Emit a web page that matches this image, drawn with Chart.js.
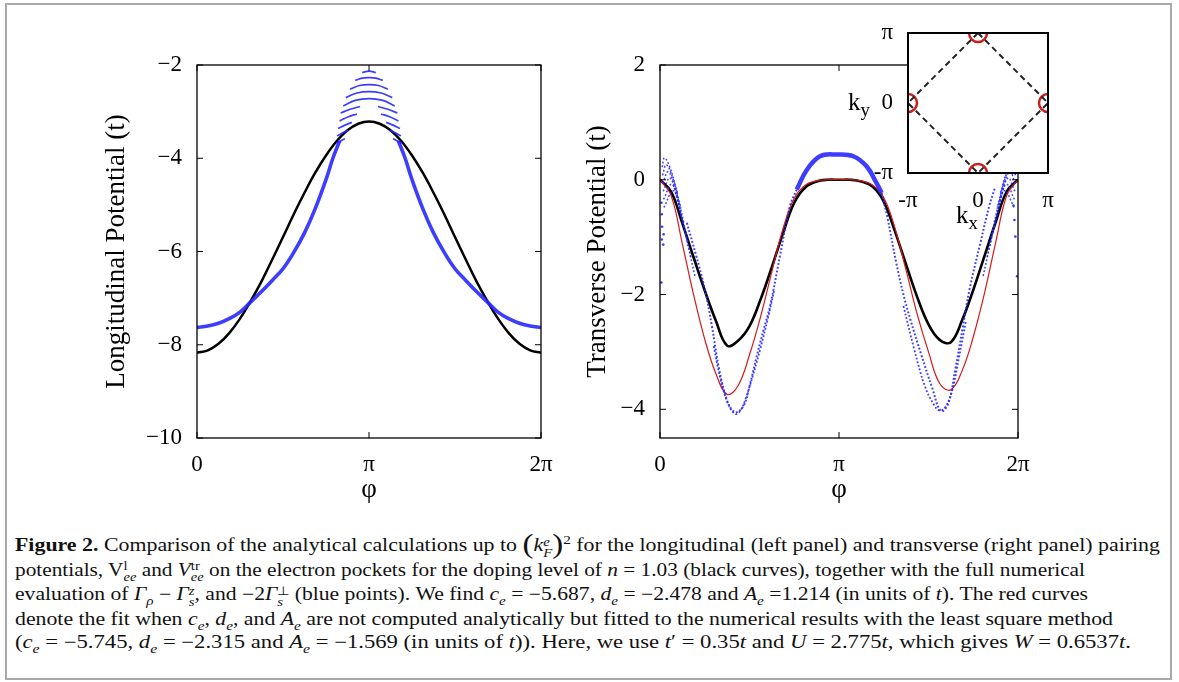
<!DOCTYPE html>
<html>
<head>
<meta charset="utf-8">
<script src="https://cdn.jsdelivr.net/npm/chart.js@4"></script>
<style>
body{margin:0;width:1179px;height:682px;background:#fff;position:relative;overflow:hidden;font-family:'Liberation Serif',serif}
.box{position:absolute}
#frame{position:absolute;left:5px;top:3px;width:1167px;height:677px;border:2px solid #a8a8a8;box-sizing:border-box}
#cap{position:absolute;left:15px;top:534px;font-size:18px;line-height:23.3px;color:#111}
.ln{display:block;width:max-content;white-space:nowrap;transform-origin:0 50%}
sub,sup{font-size:0.7em;line-height:0}
.st{display:inline-block;vertical-align:-0.45em;line-height:0.9;font-size:0.68em;text-align:left}
.big{font-size:1.5em;line-height:0;vertical-align:-0.08em}
.k{position:absolute;font-size:25px;line-height:1;color:#000}
.k sub{font-size:0.75em}
</style>
</head>
<body>
<div id="frame"></div>
<div class="box" style="left:97px;top:40px;width:463px;height:470px"><canvas id="cLong"></canvas></div>
<div class="box" style="left:578px;top:40px;width:462px;height:470px"><canvas id="cTrans"></canvas></div>
<div class="box" style="left:830px;top:0px;width:250px;height:213px"><canvas id="cInset"></canvas></div>
<div class="k" style="left:848px;top:89px">k<sub>y</sub></div>
<div class="k" style="left:956px;top:202px">k<sub>x</sub></div>

<div id="cap">
<span class="ln"><b>Figure 2.</b> Comparison of the analytical calculations up to <span class="big">(</span><i>k</i><span class="st"><i>e</i><br><i>F</i></span><span class="big">)</span><sup>2</sup> for the longitudinal (left panel) and transverse (right panel) pairing</span>
<span class="ln">potentials, V<span class="st">l<br><i>ee</i></span> and <i>V</i><span class="st">tr<br><i>ee</i></span> on the electron pockets for the doping level of <i>n</i> = 1.03 (black curves), together with the full numerical</span>
<span class="ln">evaluation of <i>Γ</i><sub><i>ρ</i></sub> − <i>Γ</i><span class="st"><i>z</i><br><i>s</i></span>, and −2<i>Γ</i><span class="st">⊥<br><i>s</i></span> (blue points). We find <i>c</i><sub><i>e</i></sub> = −5.687, <i>d</i><sub><i>e</i></sub> = −2.478 and <i>A</i><sub><i>e</i></sub> =1.214 (in units of <i>t</i>). The red curves</span>
<span class="ln">denote the fit when <i>c</i><sub><i>e</i></sub>, <i>d</i><sub><i>e</i></sub>, and <i>A</i><sub><i>e</i></sub> are not computed analytically but fitted to the numerical results with the least square method</span>
<span class="ln">(<i>c</i><sub><i>e</i></sub> = −5.745, <i>d</i><sub><i>e</i></sub> = −2.315 and <i>A</i><sub><i>e</i></sub> = −1.569 (in units of <i>t</i>)). Here, we use <i>t</i>′ = 0.35<i>t</i> and <i>U</i> = 2.775<i>t</i>, which gives <i>W</i> = 0.6537<i>t</i>.</span>
</div>

<script>
// phi in units of pi
var phiGrid = [0,0.0625,0.125,0.1875,0.25,0.3125,0.375,0.4375,0.5,0.5625,0.625,0.6875,0.75,0.8125,0.875,0.9375,1,
  1.0625,1.125,1.1875,1.25,1.3125,1.375,1.4375,1.5,1.5625,1.625,1.6875,1.75,1.8125,1.875,1.9375,2];
var xTickVals = [0, 1, 2];
var xTickLabels = ['0', 'π', '2π'];
var longTicks = [-10, -8, -6, -4, -2];
var transTicks = [-4, -2, 0, 2];

// left panel, analytical (black)
var longBlack = [-8.17,-8.12,-7.98,-7.75,-7.44,-7.06,-6.64,-6.17,-5.69,-5.20,-4.74,-4.31,-3.94,-3.63,-3.40,-3.26,-3.21,
  -3.26,-3.40,-3.63,-3.94,-4.31,-4.74,-5.20,-5.69,-6.17,-6.64,-7.06,-7.44,-7.75,-7.98,-8.12,-8.17];
// left panel, numerical (blue)
var longBlueL = [[0,-7.63],[0.0625,-7.60],[0.125,-7.54],[0.1875,-7.44],[0.25,-7.30],[0.3125,-7.08],[0.375,-6.86],[0.4375,-6.62],
  [0.5,-6.37],[0.5625,-6.02],[0.625,-5.60],[0.6875,-5.08],[0.75,-4.46],[0.79,-4.0],[0.83,-3.62]];
var longBlueR = [[1.17,-3.62],[1.21,-4.0],[1.25,-4.46],[1.3125,-5.08],[1.375,-5.60],[1.4375,-6.02],[1.5,-6.37],[1.5625,-6.62],
  [1.625,-6.86],[1.6875,-7.08],[1.75,-7.30],[1.8125,-7.44],[1.875,-7.54],[1.9375,-7.60],[2,-7.63]];
var longFan = [
  [[0.96,-2.16],[1,-2.13],[1.04,-2.16]],
  [[0.92,-2.33],[0.96,-2.28],[1,-2.27],[1.04,-2.28],[1.08,-2.33]],
  [[0.89,-2.52],[0.945,-2.44],[1,-2.42],[1.055,-2.44],[1.11,-2.52]],
  [[0.865,-2.70],[0.93,-2.60],[1,-2.57],[1.07,-2.60],[1.135,-2.70]],
  [[0.85,-2.88],[0.92,-2.76],[1,-2.72],[1.08,-2.76],[1.15,-2.88]],
  [[0.835,-3.03],[0.89,-2.95],[0.948,-2.89]],
  [[1.052,-2.89],[1.11,-2.95],[1.165,-3.03]],
  [[0.829,-3.20],[0.88,-3.11],[0.93,-3.05]],
  [[1.07,-3.05],[1.12,-3.11],[1.171,-3.20]],
  [[0.82,-3.36],[0.86,-3.29],[0.90,-3.23]],
  [[1.10,-3.23],[1.14,-3.29],[1.18,-3.36]],
  [[0.814,-3.52],[0.85,-3.45],[0.88,-3.40]],
  [[1.12,-3.40],[1.15,-3.45],[1.186,-3.52]],
  [[0.81,-3.68],[0.84,-3.62],[0.86,-3.58]],
  [[1.14,-3.58],[1.16,-3.62],[1.19,-3.68]]
];

// right panel
var transBlack = [0,-0.21,-0.76,-1.35,-1.93,-2.46,-2.89,-2.80,-2.55,-2.08,-1.52,-0.93,-0.40,-0.13,-0.03,0,0,
  0,-0.03,-0.12,-0.38,-0.90,-1.48,-2.05,-2.52,-2.79,-2.83,-2.45,-1.92,-1.33,-0.74,-0.20,0];
var transRed = [0,-0.28,-1.12,-2.0,-2.78,-3.38,-3.74,-3.58,-3.05,-2.38,-1.60,-0.85,-0.32,-0.09,-0.02,0,0,
  0,-0.02,-0.09,-0.31,-0.84,-1.58,-2.35,-3.0,-3.55,-3.66,-3.33,-2.74,-1.98,-1.1,-0.27,0];
var trBlueMain = [[0.15,-0.75],[0.2,-1.3],[0.25,-1.9],[0.29,-2.55],[0.33,-3.3],[0.37,-3.8],[0.4,-4.0],[0.43,-4.05],[0.47,-3.92],
  [0.5,-3.6],[0.54,-3.08],[0.58,-2.6],[0.615,-2.2],[0.67,-1.33],[0.726,-0.46],[0.764,-0.17]];
var trBlueCap = [[0.764,-0.17],[0.82,0.17],[0.894,0.41],[0.987,0.44],[1.08,0.41],[1.155,0.23],[1.21,-0.06],[1.238,-0.23]];
var trBlueMainR = [[1.238,-0.23],[1.27,-0.65],[1.32,-1.45],[1.36,-2.0],[1.4,-2.45],[1.46,-3.05],[1.52,-3.62],[1.57,-4.03],
  [1.61,-3.9],[1.65,-3.3],[1.69,-2.6],[1.73,-1.9],[1.79,-1.1],[1.84,-0.45],[1.87,-0.15]];
var trSpreadL = [[0.3,-2.9],[0.34,-3.5],[0.38,-3.9],[0.42,-4.08],[0.45,-4.02],[0.48,-3.8],[0.52,-3.4],[0.56,-2.95],[0.6,-2.45],[0.64,-1.9]];
var trSpreadR = [[1.36,-2.2],[1.42,-2.95],[1.48,-3.6],[1.53,-3.92],[1.56,-4.02],[1.59,-3.98],[1.63,-3.7],[1.67,-3.1],[1.71,-2.45]];
var trFanL = [
  [[0.012,0.22],[0.025,0.38],[0.055,0.22],[0.1,-0.25]],
  [[0.014,0.08],[0.035,0.26],[0.068,0.06],[0.118,-0.5]],
  [[0.016,-0.06],[0.045,0.14],[0.08,-0.1],[0.136,-0.78]],
  [[0.018,-0.2],[0.055,0.03],[0.092,-0.28],[0.155,-1.08]],
  [[0.02,-0.34],[0.065,-0.08],[0.105,-0.45],[0.175,-1.38]],
  [[0.022,-0.48],[0.075,-0.19],[0.118,-0.62],[0.195,-1.68]]
];
var trFanR = [
  [[1.988,0.22],[1.975,0.38],[1.945,0.22],[1.9,-0.25]],
  [[1.986,0.08],[1.965,0.26],[1.932,0.06],[1.882,-0.5]],
  [[1.984,-0.06],[1.955,0.14],[1.92,-0.1],[1.864,-0.78]],
  [[1.982,-0.2],[1.945,0.03],[1.908,-0.28],[1.845,-1.08]],
  [[1.98,-0.34],[1.935,-0.08],[1.895,-0.45],[1.825,-1.38]],
  [[1.978,-0.48],[1.925,-0.19],[1.882,-0.62],[1.805,-1.68]]
];
var trScatter = [[0.008,-0.4],[0.01,-0.6],[0.012,-0.82],[0.01,-1.04],[0.018,-1.13],[0.008,-1.79],[0.02,-0.95],
  [1.975,-0.45],[1.98,-0.7],[1.985,-0.99],[1.995,-1.68]];

// inset (Brillouin zone)
var insetTicks = [-3.1416, 0, 3.1416];
var insetLabels = ['-π', '0', 'π'];
var diamondKx = [0, 3.1416, 0, -3.1416, 0];
var diamondKy = [3.1416, 0, -3.1416, 0, 3.1416];
var pocketKx = [0, 3.1416, 0, -3.1416];
var pocketKy = [3.1416, 0, -3.1416, 0];

Chart.defaults.font.family = "'Liberation Serif', serif";
Chart.defaults.color = '#000';
Chart.defaults.animation = false;

var BLUE = 'rgba(40,40,255,0.9)';

function pts(arr){ return arr.map(function(p){ return {x:p[0], y:p[1]}; }); }
function grid(vals){ return vals.map(function(v,i){ return {x:phiGrid[i], y:v}; }); }
function ln(data, color, w, dash){
  return {data:data, borderColor:color, borderWidth:w, borderDash:dash||[], pointRadius:0, tension:0.4, fill:false};
}
function fmt(v){ return v < 0 ? '\u2212' + Math.abs(v) : String(v); }

function boxPlugin(ticks, white){
  return {
    id:'box',
    beforeDatasetsDraw: function(chart){
      if(!white) return;
      var a = chart.chartArea, c = chart.ctx;
      c.save(); c.fillStyle = '#fff';
      c.fillRect(a.left, a.top, a.right-a.left, a.bottom-a.top);
      c.restore();
    },
    afterDatasetsDraw: function(chart){
      var a = chart.chartArea, c = chart.ctx;
      c.save();
      c.strokeStyle = '#000'; c.lineWidth = white ? 2 : 1.3;
      c.strokeRect(a.left, a.top, a.right-a.left, a.bottom-a.top);
      if(ticks){
        var L = 6, xs = chart.scales.x, ys = chart.scales.y;
        c.beginPath();
        xs.ticks.forEach(function(t){
          var px = xs.getPixelForValue(t.value);
          c.moveTo(px, a.bottom); c.lineTo(px, a.bottom-L);
          c.moveTo(px, a.top); c.lineTo(px, a.top+L);
        });
        ys.ticks.forEach(function(t){
          var py = ys.getPixelForValue(t.value);
          c.moveTo(a.left, py); c.lineTo(a.left+L, py);
          c.moveTo(a.right, py); c.lineTo(a.right-L, py);
        });
        c.lineWidth = 1; c.stroke();
      }
      c.restore();
    }
  };
}

function panelScales(ymin, ymax, yTicks, yTitle, yWidth){
  return {
    x: {type:'linear', min:0, max:2,
      grid:{display:false}, border:{display:false},
      afterBuildTicks: function(s){ s.ticks = xTickVals.map(function(v){ return {value:v}; }); },
      afterFit: function(s){ s.height = 72; },
      ticks:{font:{size:23}, padding:5, maxRotation:0,
        callback: function(v){ return xTickLabels[xTickVals.indexOf(v)]; }},
      title:{display:true, text:'φ', font:{size:27}}
    },
    y: {type:'linear', min:ymin, max:ymax,
      grid:{display:false}, border:{display:false},
      afterBuildTicks: function(s){ s.ticks = yTicks.map(function(v){ return {value:v}; }); },
      afterFit: function(s){ s.width = yWidth; },
      ticks:{font:{size:23}, padding:7, callback: function(v){ return fmt(v); }},
      title:{display:true, text:yTitle, font:{size:27}}
    }
  };
}

var baseOpts = {responsive:true, maintainAspectRatio:false, events:[],
  plugins:{legend:{display:false}, tooltip:{enabled:false}}};

// left panel
var longSets = [];
longSets.push(ln(pts(longBlueL), BLUE, 3.6));
longSets.push(ln(pts(longBlueR), BLUE, 3.6));
longFan.forEach(function(a){ longSets.push(ln(pts(a), BLUE, 1.7)); });
longSets.push(ln(grid(longBlack), '#000', 2.5));

new Chart(document.getElementById('cLong'), {
  type:'line',
  data:{datasets:longSets},
  options:Object.assign({}, baseOpts, {
    layout:{padding:{top:25, right:19, left:0, bottom:0}},
    scales:panelScales(-10, -2, longTicks, 'Longitudinal Potential (t)', 100)
  }),
  plugins:[boxPlugin(true, false)]
});

// right panel
var trSets = [];
var dots = [1.8, 2];
trSets.push(ln(pts(trBlueMain), BLUE, 2, dots));
trSets.push(ln(pts(trSpreadL), BLUE, 1.8, dots));
trSets.push(ln(pts(trBlueCap), BLUE, 4.5));
trSets.push(ln(pts(trBlueMainR), BLUE, 2, dots));
trSets.push(ln(pts(trSpreadR), BLUE, 1.8, dots));
trFanL.forEach(function(a){ trSets.push(ln(pts(a), BLUE, 1.5, dots)); });
trFanR.forEach(function(a){ trSets.push(ln(pts(a), BLUE, 1.5, dots)); });
trSets.push({type:'scatter', data:pts(trScatter), showLine:false, pointRadius:1.3, pointBorderWidth:0, backgroundColor:BLUE});
trSets.push(ln(grid(transRed), '#d41a1a', 1.2));
trSets.push(ln(grid(transBlack), '#000', 2.6));

new Chart(document.getElementById('cTrans'), {
  type:'line',
  data:{datasets:trSets},
  options:Object.assign({}, baseOpts, {
    layout:{padding:{top:25, right:22, left:0, bottom:0}},
    scales:panelScales(-4.5, 2, transTicks, 'Transverse Potential (t)', 82)
  }),
  plugins:[boxPlugin(true, false)]
});

// inset
var diamond = diamondKx.map(function(k,i){ return {x:k, y:diamondKy[i]}; });
var pockets = pocketKx.map(function(k,i){ return {x:k, y:pocketKy[i]}; });
function insetAxis(isX){
  return {type:'linear', min:-3.1416, max:3.1416,
    grid:{display:false}, border:{display:false},
    afterBuildTicks: function(s){ s.ticks = insetTicks.map(function(v){ return {value:v}; }); },
    afterFit: function(s){ if(isX) s.height = 40; else s.width = 78; },
    ticks:{font:{size:23}, padding: isX ? 6 : 7, maxRotation:0,
      callback: function(v){ return insetLabels[insetTicks.indexOf(v)]; }}
  };
}
new Chart(document.getElementById('cInset'), {
  type:'scatter',
  data:{datasets:[
    {data:diamond, showLine:true, borderColor:'#222', borderWidth:2, borderDash:[6,4], pointRadius:0, tension:0},
    {data:pockets, showLine:false, pointRadius:9, pointBorderWidth:2.5, pointBorderColor:'#c8201e',
      pointBackgroundColor:'rgba(0,0,0,0)', clip:0}
  ]},
  options:Object.assign({}, baseOpts, {
    layout:{padding:{top:33, right:32, left:0, bottom:0}},
    scales:{x:insetAxis(true), y:insetAxis(false)}
  }),
  plugins:[boxPlugin(false, true)]
});

// stretch caption lines to the printed widths
var capWidths = [1145, 1070, 1073, 1098, 1116];
document.querySelectorAll('#cap .ln').forEach(function(el, i){
  var w = el.getBoundingClientRect().width;
  el.style.transform = 'scaleX(' + (capWidths[i] / w) + ')';
});
</script>
</body>
</html>
